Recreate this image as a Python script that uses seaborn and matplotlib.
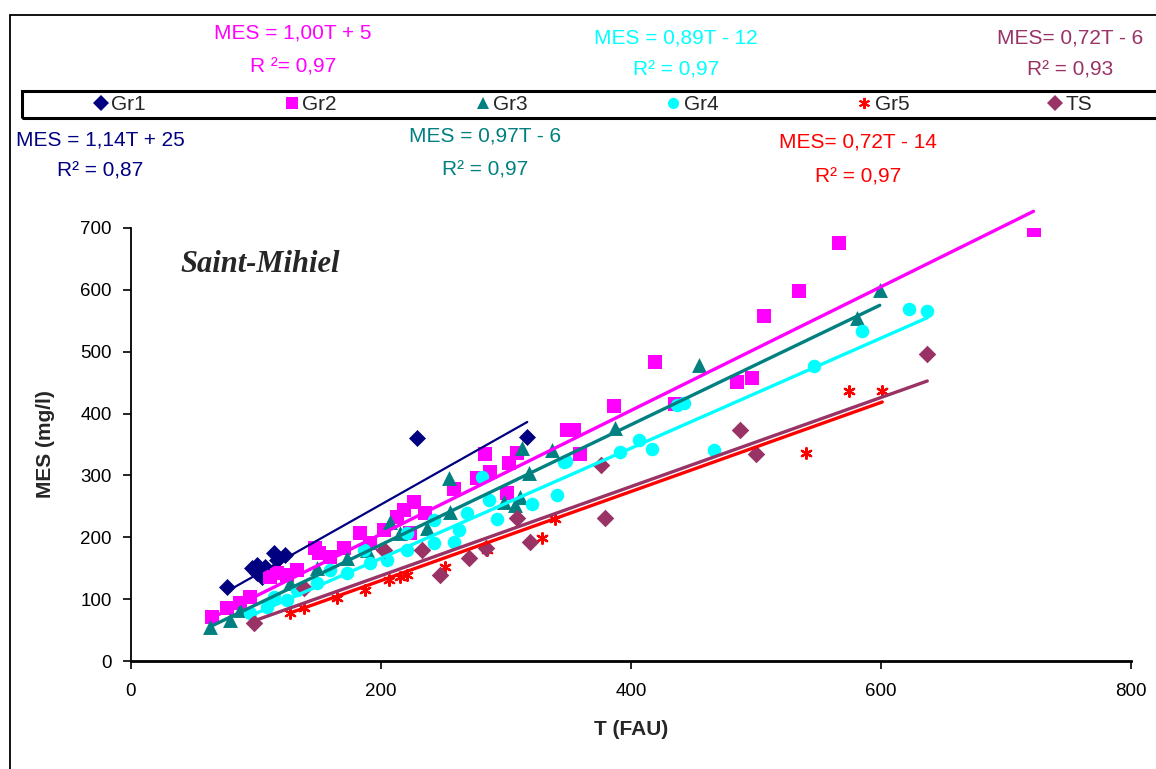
import numpy as np
import matplotlib
matplotlib.use("Agg")
import matplotlib.pyplot as plt
import matplotlib.patches as patches
from matplotlib.lines import Line2D
import seaborn as sns

# données (T en FAU, MES en mg/l)
gr1_t = [77, 97, 101, 101, 105, 107, 114, 117, 123, 229, 317]
gr1_mes = [120, 150, 155, 142, 136, 152, 174, 163, 171, 360, 362]

gr2_t = [65, 77, 87, 95, 111, 117, 125, 133, 147, 150, 159, 170, 183, 191, 202, 213, 218, 223, 226, 235,
         258, 277, 283, 287, 301, 302, 309, 349, 354, 359, 386, 419, 435, 485, 497, 506, 534, 566, 722]
gr2_mes = [71, 86, 94, 103, 136, 142, 139, 147, 183, 174, 168, 183, 207, 191, 212, 233, 244, 207, 257, 239,
           278, 296, 335, 306, 272, 320, 336, 373, 373, 334, 412, 483, 415, 451, 457, 557, 598, 676, 697]

gr3_t = [63, 79, 87, 127, 149, 173, 189, 207, 215, 237, 254, 255, 298, 307, 311, 313, 318, 337, 387, 454, 581, 599]
gr3_mes = [55, 66, 82, 126, 150, 166, 179, 225, 207, 215, 296, 241, 257, 252, 265, 344, 304, 341, 377, 478, 555, 600]

gr4_t = [95, 109, 114, 125, 133, 149, 159, 173, 186, 191, 205, 221, 221, 242, 242, 258, 262, 269, 281, 286,
         293, 321, 341, 346, 348, 391, 406, 417, 437, 442, 466, 546, 585, 622, 637]
gr4_mes = [78, 87, 103, 99, 115, 126, 147, 142, 179, 158, 163, 179, 207, 191, 228, 193, 212, 239, 297, 260,
           229, 254, 268, 322, 323, 338, 357, 343, 414, 417, 341, 477, 533, 569, 566]

gr5_t = [127, 138, 165, 187, 206, 215, 221, 251, 285, 329, 339, 540, 574, 601]
gr5_mes = [78, 86, 102, 115, 131, 136, 139, 152, 179, 199, 230, 336, 436, 436]

ts_t = [98, 138, 202, 233, 247, 270, 284, 309, 319, 376, 379, 487, 500, 637]
ts_mes = [61, 118, 179, 179, 139, 166, 183, 231, 193, 317, 231, 373, 334, 496]

noms = ["Gr1", "Gr2", "Gr3", "Gr4", "Gr5", "TS"]
pentes = [1.14, 1.00, 0.97, 0.89, 0.72, 0.72]
ordonnees = [25, 5, -6, -12, -14, -6]
equations = ["MES = 1,14T + 25", "MES = 1,00T + 5", "MES = 0,97T - 6",
             "MES = 0,89T - 12", "MES= 0,72T - 14", "MES= 0,72T - 6"]
r2 = ["R² = 0,87", "R ²= 0,97", "R² = 0,97", "R² = 0,97", "R² = 0,97", "R² = 0,93"]

couleurs = ["#000080", "#FF00FF", "#008080", "#00FFFF", "#FF0000", "#993366"]
marqueurs = ["D", "s", "^", "o", (6, 2, 0), "D"]
tailles = [75, 115, 115, 95, 60, 80]

series = [(gr1_t, gr1_mes), (gr2_t, gr2_mes), (gr3_t, gr3_mes),
          (gr4_t, gr4_mes), (gr5_t, gr5_mes), (ts_t, ts_mes)]

sns.set_theme(style="ticks")
plt.rcParams['font.family'] = ['Liberation Sans', 'DejaVu Sans']

W, H = 1156, 769
fig = plt.figure(figsize=(W / 100, H / 100), dpi=100)
ax = fig.add_axes([131 / W, 1 - 661 / H, 1000 / W, 433 / H])

# points
for (t, mes), c, m, s in zip(series, couleurs, marqueurs, tailles):
    if isinstance(m, tuple):
        sns.scatterplot(x=t, y=mes, ax=ax, marker=m, color=c, s=s, linewidth=1.6, zorder=3)
    else:
        sns.scatterplot(x=t, y=mes, ax=ax, marker=m, color=c, s=s, linewidth=0, zorder=3)

# droites de tendance (de min à max de chaque série)
for (t, mes), c, a, b, nom in zip(series, couleurs, pentes, ordonnees, noms):
    xs = np.array([min(t), max(t)])
    lw = 1.6 if nom == "Gr1" else 2.4
    sns.lineplot(x=xs, y=a * xs + b, ax=ax, color=c, linewidth=lw, zorder=4, clip_on=False)

ax.set_xlim(0, 800)
ax.set_ylim(0, 700)
ax.set_xticks(range(0, 801, 200))
ax.set_yticks(range(0, 701, 100))
sns.despine(ax=ax)
for sp in ["left", "bottom"]:
    ax.spines[sp].set_color("black")
ax.spines["left"].set_linewidth(1.3)
ax.spines["bottom"].set_linewidth(2.0)
ax.tick_params(axis="both", direction="out", length=6, width=1.2, colors="black", labelsize=13.5)
ax.tick_params(axis="y", pad=8)
ax.tick_params(axis="x", pad=10)
ax.set_xlabel("T (FAU)", fontsize=15, fontweight="bold", labelpad=14)
ax.set_ylabel("MES (mg/l)", fontsize=15, fontweight="bold", labelpad=18)

fig.text(180 / W, 1 - 265 / H, "Saint-Mihiel", fontsize=22, fontweight="bold", style="italic",
         family=["Liberation Serif", "DejaVu Serif"], ha="left", va="center")

# équations
pos_eq = [(100, 140, 171), (293, 33, 67), (485, 136, 170), (676, 38, 70), (858, 142, 177), (1070, 38, 70)]
for (x, y1, y2), c, eq, r in zip(pos_eq, couleurs, equations, r2):
    fig.text(x / W, 1 - y1 / H, eq, color=c, fontsize=15, ha="center", va="center")
    fig.text(x / W, 1 - y2 / H, r, color=c, fontsize=15, ha="center", va="center")

# légende
handles = [Line2D([], [], marker=m, color=c, linestyle="none", markersize=8,
                  markeredgewidth=1.4 if isinstance(m, tuple) else 0)
           for c, m in zip(couleurs, marqueurs)]
fig.legend(handles, noms, loc="center", bbox_to_anchor=(80 / W, 1 - 118 / H, 1025 / W, 27 / H),
           mode="expand", ncol=6, frameon=False, fontsize=15, handletextpad=0.1, handlelength=0.8,
           borderpad=0.1)
fig.add_artist(patches.Rectangle((22 / W, 1 - 118 / H), 1.2, 27 / H, transform=fig.transFigure,
                                 fill=False, edgecolor="black", linewidth=2.2))

# cadre extérieur
fig.add_artist(patches.Rectangle((10 / W, -0.05), 1.2, 1.05 - 15 / H, transform=fig.transFigure,
                                 fill=False, edgecolor="black", linewidth=1.3))

fig.savefig("out.png", dpi=100, facecolor="white")
